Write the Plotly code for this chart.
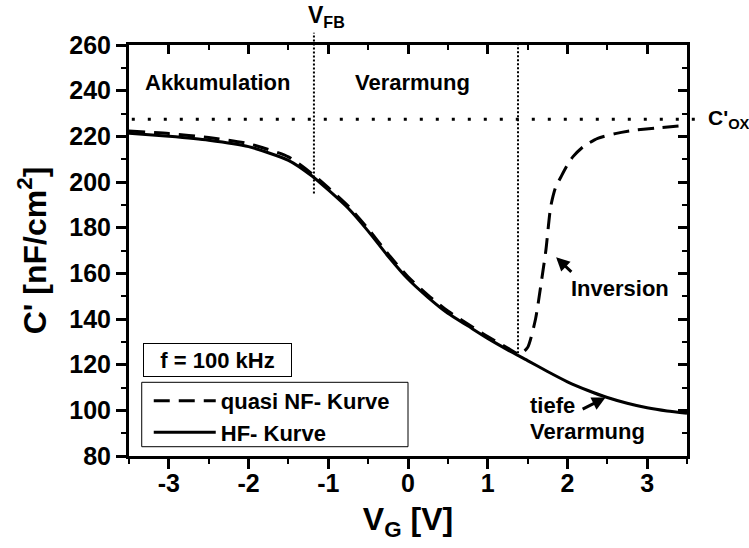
import plotly.graph_objects as go

# Gate voltage [V] and capacitance per area [nF/cm^2]
hf_v = [-3.5, -3.0, -2.5, -2.0, -1.5, -1.2, -1.0, -0.75, -0.5, -0.25, 0.0, 0.25,
        0.5, 0.75, 1.0, 1.25, 1.5, 1.75, 2.0, 2.25, 2.5, 2.75, 3.0, 3.25, 3.5]
hf_c = [221.3, 220.0, 218.3, 215.5, 209.5, 202.5, 196.5, 188.5, 178.5, 167.5, 157.5, 149.5,
        142.5, 137.0, 131.5, 126.5, 121.8, 117.0, 112.5, 108.8, 105.6, 103.1, 101.1, 99.7, 98.7]

nf_v = [-3.5, -3.0, -2.5, -2.0, -1.5, -1.2, -1.0, -0.75, -0.5, -0.25, 0.0, 0.25, 0.5,
        0.75, 1.0, 1.25, 1.4, 1.5, 1.6, 1.67, 1.73, 1.79, 1.85, 1.92, 2.0, 2.07, 2.2,
        2.38, 2.6, 2.8, 3.1, 3.5]
nf_c = [222.3, 221.2, 219.5, 216.8, 211.0, 203.5, 197.5, 189.5, 179.5, 168.5, 158.5, 150.5, 143.5,
        137.8, 132.3, 127.3, 124.6, 127.5, 140.0, 155.6, 170.2, 189.2, 197.5, 202.3, 207.5, 211.1, 215.5,
        219.1, 221.2, 222.5, 223.6, 224.8]

x_tickvals = [-3, -2, -1, 0, 1, 2, 3]
x_ticktext = ["-3", "-2", "-1", "0", "1", "2", "3"]

C_OX = 227.5        # oxide capacitance
V_FB = -1.18        # flat-band voltage
V_FB_LOW = 195.0    # lower end of the flat-band marker
V_INV = 1.38        # onset of inversion
V_INV_LOW = 125.0

X_RANGE = [-3.5, 3.5]
Y_RANGE = [80, 260]

FONT = "Liberation Sans, Arial, sans-serif"


def xp(v):
    return (v - X_RANGE[0]) / (X_RANGE[1] - X_RANGE[0])


def yp(c):
    return (c - Y_RANGE[0]) / (Y_RANGE[1] - Y_RANGE[0])


fig = go.Figure()

fig.add_trace(go.Scatter(
    x=nf_v, y=nf_c, mode="lines", name="<b>quasi NF- Kurve</b>",
    line=dict(color="black", width=3, dash="16px,9px", shape="spline", smoothing=0.6),
))
fig.add_trace(go.Scatter(
    x=hf_v, y=hf_c, mode="lines", name="<b>HF- Kurve</b>",
    line=dict(color="black", width=3, shape="spline", smoothing=0.6),
))
# carrier for the mirrored top/right axes
fig.add_trace(go.Scatter(
    x=hf_v[:1], y=hf_c[:1], xaxis="x2", yaxis="y2", mode="markers",
    marker=dict(opacity=0), showlegend=False, hoverinfo="skip",
))

axis_common = dict(
    showgrid=False, zeroline=False, showline=True, linewidth=3, linecolor="black",
    tickcolor="black", tickwidth=3,
    tickfont=dict(family=FONT, size=25, color="black", weight="bold"),
)

fig.update_layout(
    width=749, height=548,
    margin=dict(l=129, r=62, t=45, b=92),
    paper_bgcolor="white", plot_bgcolor="white",
    font=dict(family=FONT, color="black"),
    xaxis=dict(
        range=X_RANGE, tickvals=x_tickvals, ticktext=x_ticktext, ticks="outside", ticklen=10,
        ticklabelstandoff=-7,
        minor=dict(dtick=0.5, tick0=0, ticks="outside", ticklen=5, tickwidth=2, tickcolor="black"),
        title=dict(text="<b>V<sub>G</sub> [V]</b>", font=dict(family=FONT, size=32, color="black"), standoff=12),
        **axis_common,
    ),
    yaxis=dict(
        range=Y_RANGE, dtick=20, tick0=0, ticks="outside", ticklen=10,
        minor=dict(dtick=10, tick0=0, ticks="outside", ticklen=5, tickwidth=2, tickcolor="black"),
        title=dict(text="<b>C' [nF/cm<sup>2</sup>]</b>", font=dict(family=FONT, size=32, color="black"), standoff=14),
        **axis_common,
    ),
    xaxis2=dict(
        overlaying="x", side="top", anchor="y2", range=X_RANGE, tickvals=x_tickvals,
        ticks="inside", ticklen=9, showticklabels=False,
        minor=dict(dtick=0.5, tick0=0, ticks="inside", ticklen=5, tickwidth=2, tickcolor="black"),
        **axis_common,
    ),
    yaxis2=dict(
        overlaying="y", side="right", anchor="x2", range=Y_RANGE, dtick=20, tick0=0,
        ticks="inside", ticklen=9, showticklabels=False,
        minor=dict(dtick=10, tick0=0, ticks="inside", ticklen=5, tickwidth=2, tickcolor="black"),
        **axis_common,
    ),
    legend=dict(
        x=0.0354, y=0.185, xanchor="left", yanchor="top",
        borderwidth=0, bgcolor="rgba(0,0,0,0)",
        font=dict(family=FONT, size=22, color="black"),
        tracegroupgap=0, itemwidth=62,
    ),
    showlegend=True,
)

# frame around the legend entries
fig.add_shape(type="rect", xref="paper", yref="paper",
              x0=0.0228, x1=0.5, y0=0.0226, y1=0.1793,
              line=dict(color="black", width=1), layer="above")

# reference lines: oxide capacitance, flat-band voltage, onset of inversion
fig.add_shape(type="line", xref="paper", yref="paper",
              x0=xp(X_RANGE[0]) + 0.005, x1=1.02, y0=yp(C_OX), y1=yp(C_OX),
              line=dict(color="black", width=3, dash="3px,13px"))
fig.add_shape(type="line", xref="paper", yref="paper",
              x0=xp(V_FB), x1=xp(V_FB), y0=yp(V_FB_LOW), y1=1.03,
              line=dict(color="black", width=2, dash="2px,2px"))
fig.add_shape(type="line", xref="x", yref="y",
              x0=V_INV, x1=V_INV, y0=V_INV_LOW, y1=Y_RANGE[1],
              line=dict(color="black", width=2, dash="2px,2px"))

label_font = dict(family=FONT, size=22, color="black")
texts = [
    ("<b>Akkumulation</b>", -3.325, 243.5),
    ("<b>Verarmung</b>", -0.696, 243.5),
    ("<b>Inversion</b>", 2.025, 153.5),
    ("<b>tiefe</b>", 1.50, 102.3),
    ("<b>Verarmung</b>", 1.50, 90.7),
]
for txt, x, y in texts:
    fig.add_annotation(text=txt, x=x, y=y, xref="x", yref="y", xanchor="left", yanchor="middle",
                       showarrow=False, font=label_font)

fig.add_annotation(text="<b>C'<sub>OX</sub></b>", x=1.034, y=C_OX, xref="paper", yref="y",
                   xanchor="left", yanchor="middle", showarrow=False,
                   font=dict(family=FONT, size=21, color="black"))
fig.add_annotation(text="<b>V<sub>FB</sub></b>", x=V_FB, y=1.0, xref="x", yref="paper",
                   xanchor="left", yanchor="bottom", xshift=-8, yshift=12, showarrow=False,
                   font=dict(family=FONT, size=23, color="black"))

fig.add_annotation(text="<b>f = 100 kHz</b>", x=0.0246, y=yp(Y_RANGE[0]) + 0.2748, xref="paper", yref="paper",
                   xanchor="left", yanchor="top", showarrow=False, width=141, height=26,
                   borderpad=3, bordercolor="black", borderwidth=1, bgcolor="white",
                   font=dict(family=FONT, size=22, color="black"))

# arrows pointing at the inversion branch and deep depletion branch
arrows = [
    (1.858, 167.0, 2.068, 160.0),
    (2.478, 105.6, 2.172, 100.2),
]
for hx, hy, tx, ty in arrows:
    fig.add_annotation(x=hx, y=hy, ax=tx, ay=ty, xref="x", yref="y", axref="x", ayref="y",
                       text="", showarrow=True, arrowhead=2, arrowsize=0.9, arrowwidth=3,
                       arrowcolor="black", standoff=0, startstandoff=0)

fig.write_html("out.html")
